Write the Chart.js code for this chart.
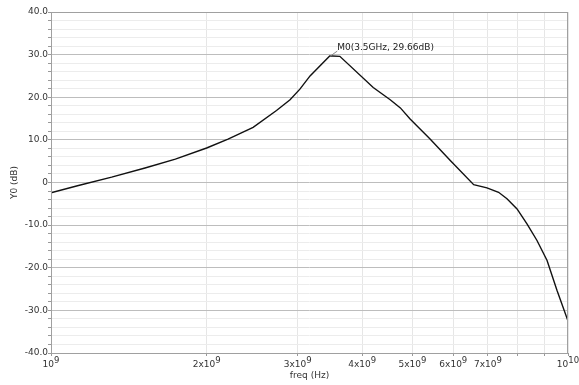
<!DOCTYPE html>
<html>
<head>
<meta charset="utf-8">
<script src="https://cdn.jsdelivr.net/npm/chart.js@4/dist/chart.umd.min.js"></script>
<style>
  html, body { margin: 0; padding: 0; background: #fff; }
  #wrap { width: 579px; height: 385px; }
</style>
</head>
<body>
<div id="wrap"><canvas id="chart" width="579" height="385"></canvas></div>
<script>
// values (freq in GHz, gain in dB)
const freqGHz = [1.0, 1.13, 1.31, 1.52, 1.74, 2.0, 2.2, 2.46, 2.73, 2.9, 3.03, 3.17, 3.46, 3.5, 3.62,
  4.2, 4.53, 4.74, 4.95, 5.41, 5.92, 6.57, 6.97, 7.34, 7.62, 7.97, 8.33, 8.71, 9.11, 9.52, 10.0];
const gainDb = [-2.4, -0.7, 1.25, 3.4, 5.5, 8.1, 10.2, 12.95, 16.9, 19.4, 21.9, 25.0, 29.66, 29.66, 29.6,
  22.3, 19.4, 17.5, 14.9, 10.2, 5.15, -0.5, -1.25, -2.3, -3.8, -6.2, -9.7, -13.6, -18.3, -25.3, -32.5];

const xTickValues = [1e9, 2e9, 3e9, 4e9, 5e9, 6e9, 7e9, 8e9, 9e9, 1e10];
const xTickBase = ['10', '2x10', '3x10', '4x10', '5x10', '6x10', '7x10', '', '', '10'];
const xTickExp = ['9', '9', '9', '9', '9', '9', '9', '', '', '10'];
const yMajorStep = 10;

const marker = { freq: 3.5e9, gain: 29.66, text: 'M0(3.5GHz, 29.66dB)' };

const points = freqGHz.map((f, i) => ({ x: f * 1e9, y: gainDb[i] }));

const frameAndMarker = {
  id: 'frameAndMarker',
  afterDraw(chart) {
    const { ctx, chartArea: a, scales } = chart;
    ctx.save();
    ctx.strokeStyle = '#a0a0a0';
    ctx.lineWidth = 1;
    ctx.strokeRect(a.left + 0.5, a.top + 0.5, a.right - a.left - 1, a.bottom - a.top);

    // x tick labels with raised exponent
    ctx.fillStyle = '#333';
    ctx.textBaseline = 'alphabetic';
    ctx.textAlign = 'left';
    xTickValues.forEach((v, i) => {
      if (!xTickBase[i]) return;
      const x = scales.x.getPixelForValue(v);
      ctx.font = '9px "DejaVu Sans"';
      const wb = ctx.measureText(xTickBase[i]).width;
      ctx.font = '8.5px "DejaVu Sans"';
      const we = ctx.measureText(xTickExp[i]).width;
      const x0 = x - (wb + we) / 2;
      ctx.font = '9px "DejaVu Sans"';
      ctx.fillText(xTickBase[i], x0, a.bottom + 14);
      ctx.font = '8.5px "DejaVu Sans"';
      ctx.fillText(xTickExp[i], x0 + wb, a.bottom + 10);
    });

    const px = scales.x.getPixelForValue(marker.freq);
    const py = scales.y.getPixelForValue(marker.gain);
    ctx.strokeStyle = '#888';
    ctx.beginPath();
    ctx.moveTo(px - 2, py);
    ctx.lineTo(px + 5, py - 5);
    ctx.stroke();
    ctx.fillStyle = '#222';
    ctx.font = '9px "DejaVu Sans"';
    ctx.textBaseline = 'middle';
    ctx.fillText(marker.text, px + 5, py - 8);
    ctx.restore();
  }
};

Chart.defaults.font.family = '"DejaVu Sans", sans-serif';
Chart.defaults.font.size = 9;
Chart.defaults.color = '#333';

new Chart(document.getElementById('chart'), {
  type: 'scatter',
  data: {
    datasets: [{
      data: points,
      showLine: true,
      borderColor: '#111',
      borderWidth: 1.4,
      pointRadius: 0,
      tension: 0
    }]
  },
  options: {
    responsive: false,
    animation: false,
    layout: { padding: { top: 12, right: 11, left: 0, bottom: 0 } },
    plugins: { legend: { display: false }, tooltip: { enabled: false } },
    scales: {
      x: {
        type: 'logarithmic',
        min: 1e9,
        max: 1e10,
        afterBuildTicks(s) { s.ticks = xTickValues.map(v => ({ value: v })); },
        afterFit(s) { s.height = 32; },
        grid: { color: '#e6e6e6', tickLength: 3, tickColor: '#999' },
        border: { display: false },
        ticks: { display: false },
        title: { display: true, text: 'freq (Hz)', padding: { top: 0, bottom: 4 }, font: { size: 9 } }
      },
      y: {
        min: -40,
        max: 40,
        afterFit(s) { s.width = 51; },
        grid: {
          color: c => (c.tick.value % yMajorStep === 0 ? '#bdbdbd' : '#ececec'),
          tickLength: 3,
          tickColor: '#999'
        },
        border: { display: false },
        ticks: {
          stepSize: 2,
          padding: 0,
          autoSkip: false,
          callback(v) {
            if (v % yMajorStep !== 0) return '';
            return v === 0 ? '0' : v.toFixed(1);
          }
        },
        title: { display: true, text: 'Y0 (dB)', padding: { top: 9, bottom: 0 }, font: { size: 9 } }
      }
    }
  },
  plugins: [frameAndMarker]
});
</script>
</body>
</html>
